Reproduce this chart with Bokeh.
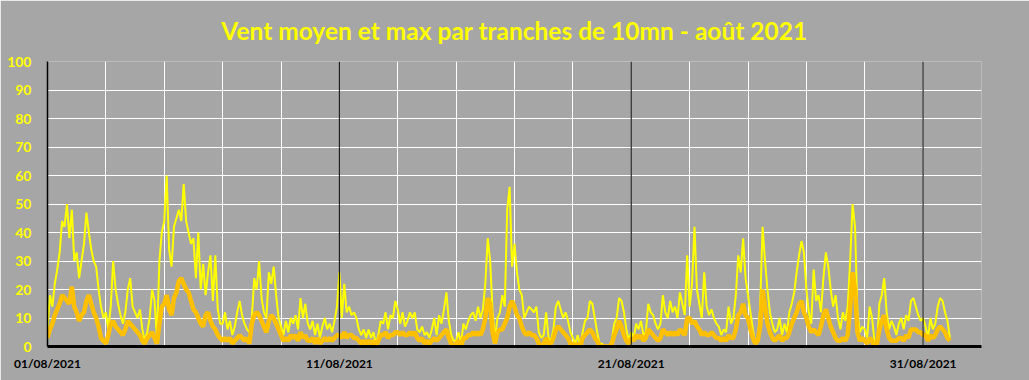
from datetime import datetime, timedelta
import pandas as pd
from bokeh.plotting import figure
from bokeh.models import Range1d, FixedTicker, Span, DatetimeTickFormatter
from bokeh.embed import file_html
from bokeh.resources import INLINE

TITLE = "Vent moyen et max par tranches de 10mn - août 2021"
START = datetime(2021, 8, 1)
END_AXIS = datetime(2021, 9, 2)
TICK_DATES = ["2021-08-01", "2021-08-11", "2021-08-21", "2021-08-31"]
Y_TICKS = [0, 10, 20, 30, 40, 50, 60, 70, 80, 90, 100]

# 2-hour samples (12 per day)
wind_max = [
    6, 18, 14, 22, 27, 33, 44, 42, 50, 38, 48, 30,
    33, 24, 30, 36, 47, 40, 34, 30, 28, 20, 14, 10,
    12, 6, 14, 30, 20, 15, 11, 8, 12, 20, 24, 14,
    12, 10, 13, 6, 2, 5, 10, 20, 16, 3, 30, 40,
    44, 60, 34, 28, 42, 45, 48, 44, 57, 44, 40, 36,
    38, 24, 40, 20, 29, 18, 26, 32, 16, 32, 13, 8,
    8, 12, 6, 9, 4, 7, 12, 16, 11, 8, 6, 5,
    10, 24, 20, 30, 17, 12, 10, 26, 22, 28, 18, 10,
    7, 4, 9, 5, 10, 8, 11, 6, 17, 10, 15, 8,
    6, 9, 4, 8, 3, 7, 10, 6, 8, 5, 9, 14,
    26, 10, 22, 12, 14, 11, 12, 10, 6, 4, 6, 3,
    6, 3, 5, 1, 4, 9, 8, 12, 6, 11, 10, 16,
    13, 8, 12, 7, 9, 12, 10, 12, 6, 5, 7, 4,
    5, 3, 6, 10, 4, 11, 8, 13, 19, 9, 4, 2,
    2, 5, 1, 8, 6, 9, 11, 12, 9, 14, 10, 13,
    22, 38, 30, 12, 3, 10, 12, 18, 14, 48, 56, 28,
    36, 26, 20, 18, 10, 12, 14, 13, 12, 14, 5, 3,
    4, 12, 3, 2, 6, 14, 16, 13, 10, 12, 9, 5,
    3, 1, 4, 0, 5, 9, 10, 16, 15, 10, 5, 1,
    1, 0, 0, 0, 2, 8, 10, 17, 16, 12, 6, 2,
    5, 3, 8, 6, 9, 4, 5, 15, 12, 11, 8, 6,
    8, 18, 12, 10, 16, 12, 14, 10, 19, 15, 11, 32,
    14, 22, 42, 20, 15, 10, 26, 14, 11, 13, 10, 8,
    7, 4, 6, 5, 14, 8, 10, 18, 32, 26, 38, 24,
    18, 12, 6, 1, 2, 14, 42, 30, 20, 12, 8, 5,
    6, 10, 4, 8, 5, 12, 15, 19, 26, 32, 37, 33,
    20, 12, 8, 27, 16, 18, 12, 24, 33, 28, 20, 14,
    18, 10, 6, 12, 9, 14, 30, 50, 42, 12, 5, 7,
    6, 3, 14, 10, 2, 0, 15, 18, 24, 12, 6, 9,
    7, 4, 8, 10, 6, 11, 9, 16, 17, 14, 11, 9,
    10, 7, 3, 10, 6, 8, 14, 17, 16, 12, 9, 3,
]

wind_mean = [
    3, 6, 8, 11, 13, 15, 18, 17, 16, 15, 21, 14,
    12, 9, 11, 12, 16, 18, 15, 12, 10, 7, 3, 2,
    1, 4, 8, 9, 7, 6, 5, 4, 6, 9, 8, 7,
    6, 5, 4, 2, 1, 3, 4, 5, 3, 1, 8, 14,
    15, 18, 13, 11, 17, 19, 23, 24, 22, 20, 19, 16,
    13, 12, 10, 8, 7, 11, 12, 9, 7, 6, 4, 3,
    2, 3, 2, 3, 1, 2, 3, 4, 3, 2, 3, 1,
    8, 11, 12, 11, 9, 7, 5, 9, 11, 10, 8, 6,
    4, 2, 3, 2, 4, 3, 4, 2, 5, 3, 4, 2,
    2, 3, 1, 3, 1, 2, 3, 2, 3, 2, 3, 4,
    4, 3, 5, 3, 4, 4, 3, 3, 2, 1, 2, 1,
    2, 1, 2, 0, 2, 4, 4, 5, 3, 4, 4, 5,
    5, 4, 5, 4, 4, 5, 4, 5, 3, 2, 3, 1,
    2, 1, 2, 3, 2, 3, 4, 5, 6, 3, 1, 0,
    1, 2, 0, 3, 3, 4, 4, 5, 4, 5, 4, 6,
    10, 17, 15, 5, 1, 5, 6, 6, 8, 10, 14, 16,
    14, 11, 10, 7, 5, 4, 5, 4, 4, 3, 1, 0,
    1, 3, 1, 1, 3, 6, 7, 6, 5, 4, 3, 1,
    1, 0, 1, 0, 3, 4, 5, 6, 5, 3, 2, 0,
    0, 0, 0, 0, 1, 4, 6, 9, 7, 4, 2, 1,
    3, 2, 4, 3, 4, 2, 3, 6, 5, 4, 3, 2,
    3, 6, 5, 4, 5, 4, 5, 4, 6, 5, 4, 10,
    10, 8, 9, 7, 6, 4, 5, 4, 4, 5, 4, 3,
    3, 2, 3, 2, 4, 3, 3, 6, 11, 12, 15, 11,
    10, 6, 3, 1, 2, 7, 20, 14, 8, 5, 3, 2,
    3, 4, 2, 3, 3, 5, 8, 10, 12, 15, 16, 12,
    10, 7, 5, 6, 5, 4, 7, 11, 13, 10, 7, 5,
    3, 2, 2, 3, 2, 4, 14, 26, 20, 5, 2, 3,
    2, 1, 3, 2, 0, 1, 6, 9, 11, 6, 3, 2,
    2, 2, 3, 3, 2, 4, 3, 6, 6, 6, 5, 5,
    4, 4, 2, 4, 3, 4, 6, 7, 6, 5, 3, 2,
]

times = pd.date_range(START, periods=len(wind_max), freq="2h")

BG = "#A6A6A6"

p = figure(width=1029, height=380, x_axis_type="datetime",
           output_backend="svg", toolbar_location=None,
           x_range=Range1d(START, END_AXIS), y_range=Range1d(0, 100),
           min_border_left=47, min_border_right=48,
           min_border_top=61, min_border_bottom=34)

p.background_fill_color = BG
p.border_fill_color = BG
p.outline_line_color = None

p.title.text = TITLE
p.title.align = "center"
p.title.vertical_align = "top"
p.title.text_color = "#FFFF00"
p.title.text_font = "Lato"
p.title.text_font_style = "bold"
p.title.text_font_size = "24.5px"
p.title.text_line_height = 0.8
p.title.standoff = 30

def ms(d):
    return pd.Timestamp(d).value / 1e6

grid_days = [ms(d) for d in pd.date_range(START, END_AXIS, freq="2D")]
p.xgrid.ticker = FixedTicker(ticks=grid_days)
p.xgrid.grid_line_color = "white"
p.xgrid.grid_line_width = 1
p.ygrid.ticker = FixedTicker(ticks=Y_TICKS)
p.ygrid.grid_line_color = "white"
p.ygrid.grid_line_width = 1

for d in TICK_DATES[1:]:
    p.add_layout(Span(location=ms(d), dimension="height",
                      line_color="black", line_width=1))

p.line(times, wind_max, line_color="#FFFF00", line_width=2)
p.line(times, wind_mean, line_color="#FFC000", line_width=4.5)

p.xaxis.ticker = FixedTicker(ticks=[ms(d) for d in TICK_DATES])
fmt = "%d/%m/%Y"
p.xaxis.formatter = DatetimeTickFormatter(
    milliseconds=fmt, seconds=fmt, minsec=fmt, minutes=fmt, hourmin=fmt,
    hours=fmt, days=fmt, months=fmt, years=fmt)
p.xaxis.axis_line_color = "black"
p.xaxis.axis_line_width = 3
p.xaxis.major_tick_line_color = None
p.xaxis.minor_tick_line_color = None
p.xaxis.major_label_text_color = "black"
p.xaxis.major_label_text_font = "Lato"
p.xaxis.major_label_text_font_style = "bold"
p.xaxis.major_label_text_font_size = "12px"
p.xaxis.major_label_standoff = 3

p.yaxis.ticker = FixedTicker(ticks=Y_TICKS)
p.yaxis.axis_line_color = "black"
p.yaxis.axis_line_width = 1.5
p.yaxis.major_tick_line_color = None
p.yaxis.minor_tick_line_color = None
p.yaxis.major_label_text_color = "#FFFF00"
p.yaxis.major_label_text_font = "Lato"
p.yaxis.major_label_text_font_style = "bold"
p.yaxis.major_label_text_font_size = "14px"
p.yaxis.major_label_standoff = 10

open("out.html", "w").write(file_html(p, INLINE))
